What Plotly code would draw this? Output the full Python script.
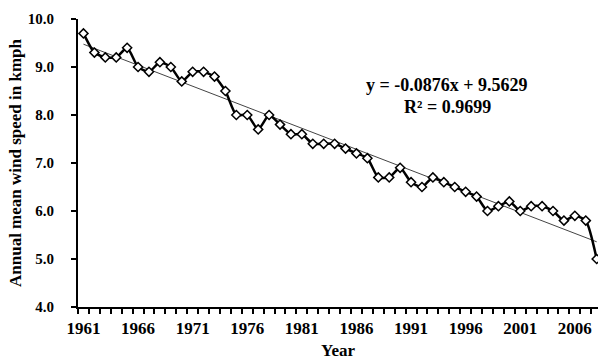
import plotly.graph_objects as go

years = list(range(1961, 2009))
wind_speed = [9.7, 9.3, 9.2, 9.2, 9.4, 9.0, 8.9, 9.1, 9.0, 8.7,
              8.9, 8.9, 8.8, 8.5, 8.0, 8.0, 7.7, 8.0, 7.8, 7.6,
              7.6, 7.4, 7.4, 7.4, 7.3, 7.2, 7.1, 6.7, 6.7, 6.9,
              6.6, 6.5, 6.7, 6.6, 6.5, 6.4, 6.3, 6.0, 6.1, 6.2,
              6.0, 6.1, 6.1, 6.0, 5.8, 5.9, 5.8, 5.0]
trend_slope = -0.0876
trend_intercept = 9.5629
r_squared = 0.9699
x_tick_labels = [1961, 1966, 1971, 1976, 1981, 1986, 1991, 1996, 2001, 2006]
y_tick_labels = [4.0, 5.0, 6.0, 7.0, 8.0, 9.0, 10.0]

trend_vals = [trend_intercept + trend_slope * (i + 1) for i in range(len(years))]

FONT = "Liberation Serif"

W, H = 598, 360
L, R, T, B = 78, 0, 19, 53
pw = W - L - R
ph = H - T - B


def px_x(p):
    return (p - L) / pw


def px_y(p):
    return 1 - (p - T) / ph


fig = go.Figure()
fig.add_trace(go.Scatter(
    x=years, y=trend_vals, mode="lines",
    line=dict(color="#444444", width=1),
    showlegend=False, hoverinfo="skip"))
fig.add_trace(go.Scatter(
    x=years, y=wind_speed, mode="lines+markers",
    line=dict(color="black", width=2.5, shape="spline", smoothing=0.6),
    marker=dict(symbol="diamond", size=7, color="white",
                line=dict(color="black", width=1.5)),
    cliponaxis=False, showlegend=False))

fig.add_annotation(
    x=px_x(447), y=px_y(85), xref="paper", yref="paper", showarrow=False,
    xanchor="center", yanchor="middle",
    text=f"y = {trend_slope}x + {trend_intercept}",
    font=dict(family=FONT, size=18, color="black", weight="bold"))
fig.add_annotation(
    x=px_x(447), y=px_y(107), xref="paper", yref="paper", showarrow=False,
    xanchor="center", yanchor="middle",
    text=f"R² = {r_squared}",
    font=dict(family=FONT, size=18, color="black", weight="bold"))

fig.update_layout(
    width=W, height=H,
    margin=dict(l=L, r=R, t=T, b=B),
    plot_bgcolor="white", paper_bgcolor="white",
    showlegend=False,
)
fig.update_xaxes(
    range=[1960.5, 2008.12],
    tickvals=x_tick_labels, ticktext=[str(v) for v in x_tick_labels],
    ticks="", showgrid=False, zeroline=False,
    showline=True, linecolor="black", linewidth=2,
    minor=dict(ticks="outside", tick0=1960.5, dtick=1, ticklen=5,
               tickwidth=1.5, tickcolor="black", showgrid=False),
    tickfont=dict(family=FONT, size=17, color="black", weight="bold"),
    ticklabelstandoff=5,
    title=dict(text="Year", standoff=8,
               font=dict(family=FONT, size=17, color="black", weight="bold")),
)
fig.update_yaxes(
    range=[4, 10],
    tickvals=y_tick_labels, ticktext=[f"{v:.1f}" for v in y_tick_labels],
    ticks="outside", ticklen=5, tickwidth=2, tickcolor="black",
    showgrid=False, zeroline=False,
    showline=True, linecolor="black", linewidth=2,
    tickfont=dict(family=FONT, size=15, color="black", weight="bold"),
    ticklabelstandoff=14,
    title=dict(text="Annual mean wind speed in kmph", standoff=2,
               font=dict(family=FONT, size=17, color="black", weight="bold")),
)

fig.write_html("out.html")
